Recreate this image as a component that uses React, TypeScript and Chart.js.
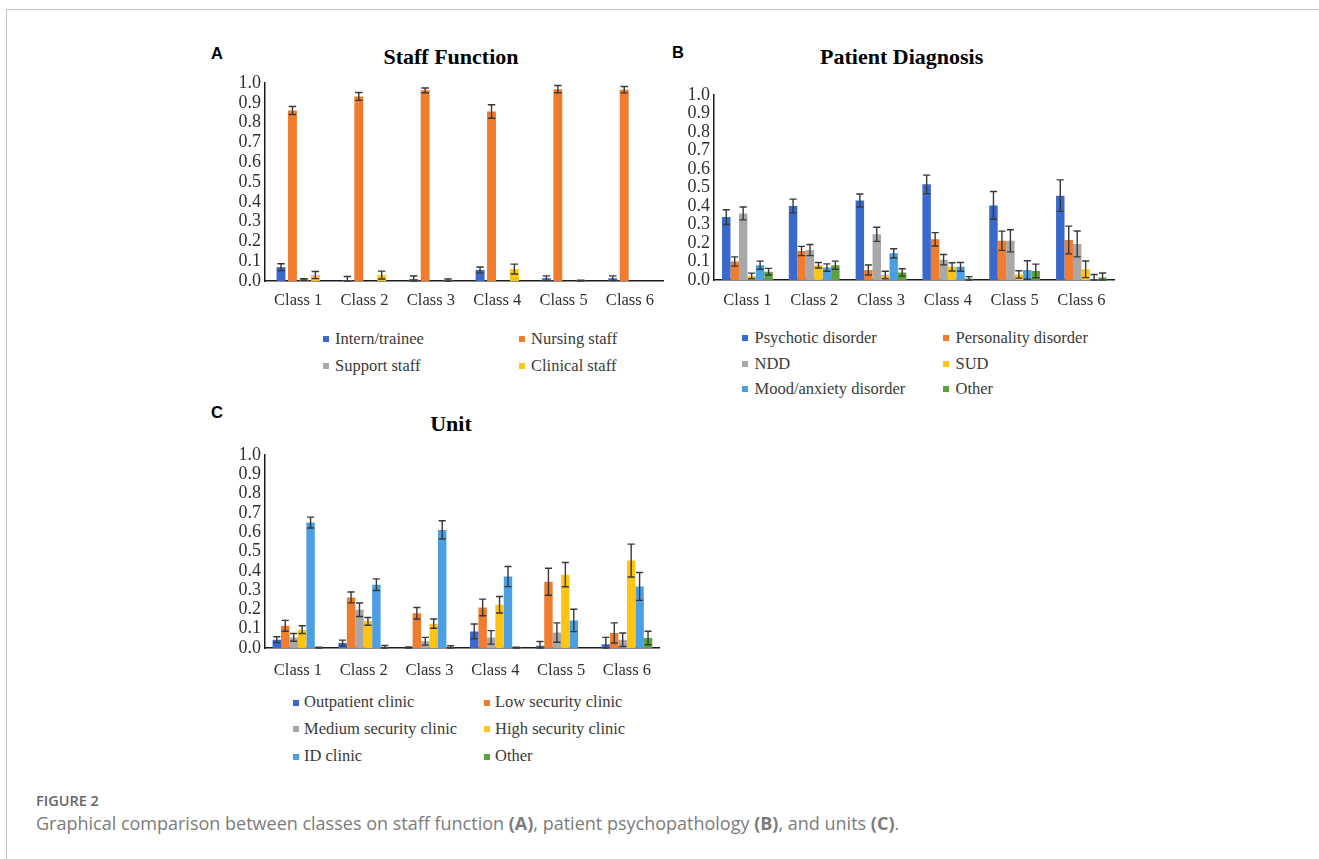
import React, { useEffect, useRef } from "react";
import { Chart, registerables } from "chart.js";

Chart.register(...registerables);

// ---------- shared ----------
const classes = ["Class 1", "Class 2", "Class 3", "Class 4", "Class 5", "Class 6"];
const yMin = 0;
const yMax = 1;
const yStep = 0.1;

const blue = "#3A69CC";
const orange = "#F07C2E";
const gray = "#A8A8A8";
const yellow = "#FFC414";
const lightBlue = "#4C9FE3";
const green = "#5CA33E";

// ---------- A: Staff Function ----------
const staffLabels = ["Intern/trainee", "Nursing staff", "Support staff", "Clinical staff"];
const internVals = [0.07, 0.005, 0.01, 0.056, 0.014, 0.014];
const internErr = [0.017, 0.018, 0.015, 0.015, 0.012, 0.012];
const nursingVals = [0.861, 0.932, 0.963, 0.856, 0.969, 0.966];
const nursingErr = [0.02, 0.02, 0.012, 0.034, 0.018, 0.016];
const supportVals = [0.008, 0, 0, 0, 0, 0];
const supportErr = [0.004, 0, 0, 0, 0, 0];
const clinicalVals = [0.03, 0.03, 0.003, 0.06, 0.002, 0];
const clinicalErr = [0.018, 0.02, 0.007, 0.025, 0.002, 0];

// ---------- B: Patient Diagnosis ----------
const diagnosisLabels = ["Psychotic disorder", "Personality disorder", "NDD", "SUD", "Mood/anxiety disorder", "Other"];
const psychoticVals = [0.34, 0.4, 0.43, 0.517, 0.403, 0.456];
const psychoticErr = [0.04, 0.037, 0.035, 0.05, 0.075, 0.085];
const personalityVals = [0.1, 0.157, 0.054, 0.22, 0.212, 0.216];
const personalityErr = [0.025, 0.025, 0.027, 0.036, 0.052, 0.075];
const nddVals = [0.36, 0.162, 0.247, 0.11, 0.212, 0.195];
const nddErr = [0.035, 0.03, 0.038, 0.028, 0.06, 0.07];
const sudVals = [0.022, 0.08, 0.027, 0.071, 0.03, 0.058];
const sudErr = [0.015, 0.015, 0.02, 0.022, 0.02, 0.045];
const moodVals = [0.08, 0.067, 0.144, 0.071, 0.054, 0.005];
const moodErr = [0.022, 0.02, 0.025, 0.024, 0.05, 0.025];
const otherDxVals = [0.045, 0.08, 0.041, 0.008, 0.049, 0.013];
const otherDxErr = [0.018, 0.022, 0.02, 0.01, 0.037, 0.025];

// ---------- C: Unit ----------
const unitLabels = ["Outpatient clinic", "Low security clinic", "Medium security clinic", "High security clinic", "ID clinic", "Other"];
const outpatientVals = [0.043, 0.026, 0.003, 0.086, 0.012, 0.02];
const outpatientErr = [0.015, 0.015, 0.003, 0.038, 0.022, 0.035];
const lowVals = [0.115, 0.262, 0.18, 0.21, 0.343, 0.078];
const lowErr = [0.028, 0.028, 0.03, 0.043, 0.07, 0.052];
const mediumVals = [0.055, 0.198, 0.035, 0.055, 0.08, 0.043];
const mediumErr = [0.02, 0.035, 0.02, 0.035, 0.05, 0.035];
const highVals = [0.095, 0.138, 0.126, 0.224, 0.38, 0.453];
const highErr = [0.02, 0.02, 0.024, 0.043, 0.063, 0.085];
const idVals = [0.65, 0.328, 0.612, 0.37, 0.143, 0.319];
const idErr = [0.028, 0.03, 0.047, 0.052, 0.058, 0.072];
const otherUnitVals = [0.002, 0.003, 0.002, 0.002, 0, 0.052];
const otherUnitErr = [0.002, 0.01, 0.01, 0.002, 0, 0.035];

type Series = { label: string; color: string; values: number[]; errors: number[] };

const staffSeries: Series[] = [
  { label: staffLabels[0], color: blue, values: internVals, errors: internErr },
  { label: staffLabels[1], color: orange, values: nursingVals, errors: nursingErr },
  { label: staffLabels[2], color: gray, values: supportVals, errors: supportErr },
  { label: staffLabels[3], color: yellow, values: clinicalVals, errors: clinicalErr },
];
const diagnosisSeries: Series[] = [
  { label: diagnosisLabels[0], color: blue, values: psychoticVals, errors: psychoticErr },
  { label: diagnosisLabels[1], color: orange, values: personalityVals, errors: personalityErr },
  { label: diagnosisLabels[2], color: gray, values: nddVals, errors: nddErr },
  { label: diagnosisLabels[3], color: yellow, values: sudVals, errors: sudErr },
  { label: diagnosisLabels[4], color: lightBlue, values: moodVals, errors: moodErr },
  { label: diagnosisLabels[5], color: green, values: otherDxVals, errors: otherDxErr },
];
const unitSeries: Series[] = [
  { label: unitLabels[0], color: blue, values: outpatientVals, errors: outpatientErr },
  { label: unitLabels[1], color: orange, values: lowVals, errors: lowErr },
  { label: unitLabels[2], color: gray, values: mediumVals, errors: mediumErr },
  { label: unitLabels[3], color: yellow, values: highVals, errors: highErr },
  { label: unitLabels[4], color: lightBlue, values: idVals, errors: idErr },
  { label: unitLabels[5], color: green, values: otherUnitVals, errors: otherUnitErr },
];

const SERIF = "'Liberation Serif', 'Times New Roman', serif";
const SANS = "'Liberation Sans', Arial, sans-serif";
const OPEN = "'Open Sans', 'Noto Sans', sans-serif";

const errorBarPlugin = {
  id: "errorBars",
  afterDatasetsDraw(chart: any) {
    const { ctx } = chart;
    const y = chart.scales.y;
    ctx.save();
    ctx.strokeStyle = "#383838";
    ctx.lineWidth = 1.4;
    chart.data.datasets.forEach((ds: any, i: number) => {
      const errs: number[] = ds.errors;
      if (!errs) return;
      const meta = chart.getDatasetMeta(i);
      meta.data.forEach((bar: any, j: number) => {
        const v = ds.data[j] as number;
        const e = errs[j];
        if (!e) return;
        const top = y.getPixelForValue(v + e);
        const bot = y.getPixelForValue(Math.max(0, v - e));
        const cap = Math.min(bar.width * 0.42, 3.8);
        ctx.beginPath();
        ctx.moveTo(bar.x, top);
        ctx.lineTo(bar.x, bot);
        ctx.moveTo(bar.x - cap, top);
        ctx.lineTo(bar.x + cap, top);
        ctx.moveTo(bar.x - cap, bot);
        ctx.lineTo(bar.x + cap, bot);
        ctx.stroke();
      });
    });
    ctx.restore();
  },
};

type PanelProps = {
  left: number;
  top: number;
  width: number;
  height: number;
  yAxisWidth: number;
  xPad: number;
  series: Series[];
  categoryPercentage: number;
  barPercentage: number;
};

function BarPanel(p: PanelProps) {
  const ref = useRef<HTMLCanvasElement>(null);
  useEffect(() => {
    const axisBorder = { display: true, color: "#1c1c1c", width: 1.5 };
    const chart = new Chart(ref.current as HTMLCanvasElement, {
      type: "bar",
      data: {
        labels: classes,
        datasets: p.series.map((s) => ({
          label: s.label,
          data: s.values,
          errors: s.errors,
          backgroundColor: s.color,
          borderWidth: 0,
          categoryPercentage: p.categoryPercentage,
          barPercentage: p.barPercentage,
        })) as any,
      },
      options: {
        animation: false,
        responsive: false,
        devicePixelRatio: 1,
        layout: { padding: { top: 15, left: 0, right: 0, bottom: 0 } },
        plugins: {
          legend: { display: false },
          title: { display: false },
          tooltip: { enabled: false },
        },
        scales: {
          x: {
            grid: { display: false, drawTicks: false },
            border: axisBorder,
            ticks: {
              padding: p.xPad,
              color: "#303030",
              maxRotation: 0,
              autoSkip: false,
              font: { family: SERIF, size: 16.5 },
            },
            afterFit: (s: any) => {
              s.height = 35;
            },
          },
          y: {
            min: yMin,
            max: yMax,
            grid: { display: false, drawTicks: false },
            border: axisBorder,
            ticks: {
              stepSize: yStep,
              autoSkip: false,
              padding: 4,
              color: "#303030",
              font: { family: SERIF, size: 18 },
              callback: (v: any) => Number(v).toFixed(1),
            },
            afterFit: (s: any) => {
              s.width = p.yAxisWidth;
            },
          },
        },
      } as any,
      plugins: [errorBarPlugin],
    });
    return () => chart.destroy();
  }, []);
  return (
    <canvas
      ref={ref}
      width={p.width}
      height={p.height}
      style={{ position: "absolute", left: p.left, top: p.top, display: "block" }}
    />
  );
}

type LegendProps = { series: Series[]; cols: number[]; rows: number[]; textOffset: number };

function Legend({ series, cols, rows, textOffset }: LegendProps) {
  const size = 16.5;
  return (
    <>
      {series.map((s, i) => {
        const x = cols[i % 2];
        const y = rows[Math.floor(i / 2)];
        return (
          <React.Fragment key={s.label}>
            <div
              style={{
                position: "absolute",
                left: x,
                top: y - 3,
                width: 6,
                height: 6,
                background: s.color,
              }}
            />
            <div
              style={{
                position: "absolute",
                left: x + textOffset,
                top: y - 0.5065 * size,
                fontFamily: SERIF,
                fontSize: size,
                lineHeight: `${size}px`,
                color: "#3a3a3a",
                whiteSpace: "nowrap",
              }}
            >
              {s.label}
            </div>
          </React.Fragment>
        );
      })}
    </>
  );
}

function Title({ text, cx, cy }: { text: string; cx: number; cy: number }) {
  const size = 22;
  return (
    <div
      style={{
        position: "absolute",
        left: cx - 200,
        width: 400,
        top: cy - 0.5065 * size,
        textAlign: "center",
        fontFamily: SERIF,
        fontWeight: 700,
        fontSize: size,
        lineHeight: `${size}px`,
        color: "#000",
        whiteSpace: "nowrap",
      }}
    >
      {text}
    </div>
  );
}

function Letter({ text, x, cy }: { text: string; x: number; cy: number }) {
  const size = 16.5;
  return (
    <div
      style={{
        position: "absolute",
        left: x,
        top: cy - 0.4885 * size,
        fontFamily: SANS,
        fontWeight: 700,
        fontSize: size,
        lineHeight: `${size}px`,
        color: "#000",
      }}
    >
      {text}
    </div>
  );
}

export default function App() {
  return (
    <div
      style={{
        position: "absolute",
        left: 0,
        top: 0,
        width: 1319,
        height: 859,
        overflow: "hidden",
        background: "#fff",
      }}
    >
      <div
        style={{
          position: "absolute",
          left: 6,
          top: 9,
          width: 1400,
          height: 900,
          borderTop: "1px solid #c4c4c4",
          borderLeft: "1px solid #c4c4c4",
        }}
      />

      <Letter text="A" x={211} cy={53.3} />
      <Letter text="B" x={672} cy={52.3} />
      <Letter text="C" x={211} cy={412.5} />

      <Title text="Staff Function" cx={451} cy={57} />
      <Title text="Patient Diagnosis" cx={901.7} cy={57} />
      <Title text="Unit" cx={451} cy={423.7} />

      <BarPanel
        left={215}
        top={68}
        width={449}
        height={248}
        yAxisWidth={50}
        xPad={10}
        series={staffSeries}
        categoryPercentage={0.69}
        barPercentage={0.78}
      />
      <BarPanel
        left={664}
        top={80}
        width={452}
        height={235}
        yAxisWidth={50}
        xPad={10.5}
        series={diagnosisSeries}
        categoryPercentage={0.76}
        barPercentage={1}
      />
      <BarPanel
        left={215}
        top={440}
        width={449}
        height={243}
        yAxisWidth={50}
        xPad={13}
        series={unitSeries}
        categoryPercentage={0.77}
        barPercentage={1}
      />

      <Legend series={staffSeries} cols={[323, 519]} rows={[339, 366]} textOffset={12} />
      <Legend series={diagnosisSeries} cols={[742, 943]} rows={[338, 364, 389]} textOffset={12.5} />
      <Legend series={unitSeries} cols={[293, 484]} rows={[702.5, 729, 756.5]} textOffset={11} />

      <div
        style={{
          position: "absolute",
          left: 36,
          top: 801.7 - 0.531 * 14.5,
          fontFamily: OPEN,
          fontWeight: 600,
          fontSize: 14.5,
          lineHeight: "14.5px",
          color: "#666",
          whiteSpace: "nowrap",
        }}
      >
        FIGURE 2
      </div>
      <div
        style={{
          position: "absolute",
          left: 36,
          top: 823.7 - 0.531 * 18,
          fontFamily: OPEN,
          fontSize: 18,
          lineHeight: "18px",
          color: "#7c7c7c",
          whiteSpace: "nowrap",
        }}
      >
        Graphical comparison between classes on staff function <b>(A)</b>, patient psychopathology{" "}
        <b>(B)</b>, and units <b>(C)</b>.
      </div>
    </div>
  );
}
